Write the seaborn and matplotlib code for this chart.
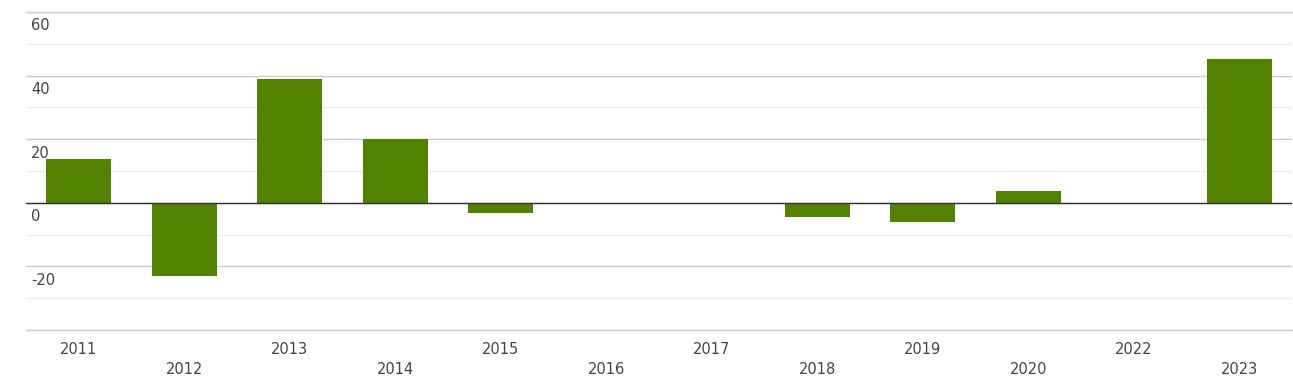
import pandas as pd
import matplotlib.pyplot as plt
import seaborn as sns
from matplotlib.ticker import MultipleLocator

# Yearly change values (2021 is not shown)
years = ["2011", "2012", "2013", "2014", "2015", "2016",
         "2017", "2018", "2019", "2020", "2022", "2023"]
values = [13.8, -23.1, 38.8, 20.0, -3.1, 0.0,
          0.0, -4.4, -5.9, 3.8, 0.0, 45.3]

df = pd.DataFrame({"year": years, "value": values})

sns.set_theme(style="white")
plt.rcParams["font.family"] = ["DejaVu Sans"]

W, H = 1293, 384
fig = plt.figure(figsize=(W / 100, H / 100), dpi=100)
ax = fig.add_axes([26 / W, (H - 330) / H, (1292 - 26) / W, (330 - 12) / H])

sns.barplot(data=df, x="year", y="value", order=years, color="#548000",
            saturation=1, width=0.62, linewidth=0, ax=ax)

ax.set_xlim(-0.5, len(years) - 0.5)
ax.set_ylim(-40, 60)
ax.yaxis.set_major_locator(MultipleLocator(20))
ax.yaxis.set_minor_locator(MultipleLocator(10))
ax.grid(axis="y", which="minor", color="#eeeeee", linewidth=1)
ax.grid(axis="y", which="major", color="#cccccc", linewidth=1)
ax.set_axisbelow(True)
ax.axhline(-40, color="#cccccc", linewidth=1, clip_on=False, zorder=1)
ax.axhline(60, color="#cccccc", linewidth=1, clip_on=False, zorder=1)
ax.axhline(0, color="#333333", linewidth=1, zorder=3)

for s in ax.spines.values():
    s.set_visible(False)
ax.tick_params(which="both", length=0, labelleft=False, labelbottom=False)
ax.set_xlabel("")
ax.set_ylabel("")

txt = "#444444"
for v in range(-20, 61, 20):
    ax.annotate(str(v), xy=(0, v), xycoords=("axes fraction", "data"),
                xytext=(5, -14), textcoords="offset pixels",
                ha="left", va="center", fontsize=10.5, color=txt)

for i, y in enumerate(years):
    off = -19 if i % 2 == 0 else -39
    ax.annotate(y, xy=(i, 0), xycoords=("data", "axes fraction"),
                xytext=(0, off), textcoords="offset pixels",
                ha="center", va="center", fontsize=10.5, color=txt,
                annotation_clip=False)

plt.savefig("out.png", dpi=100)
plt.close()
